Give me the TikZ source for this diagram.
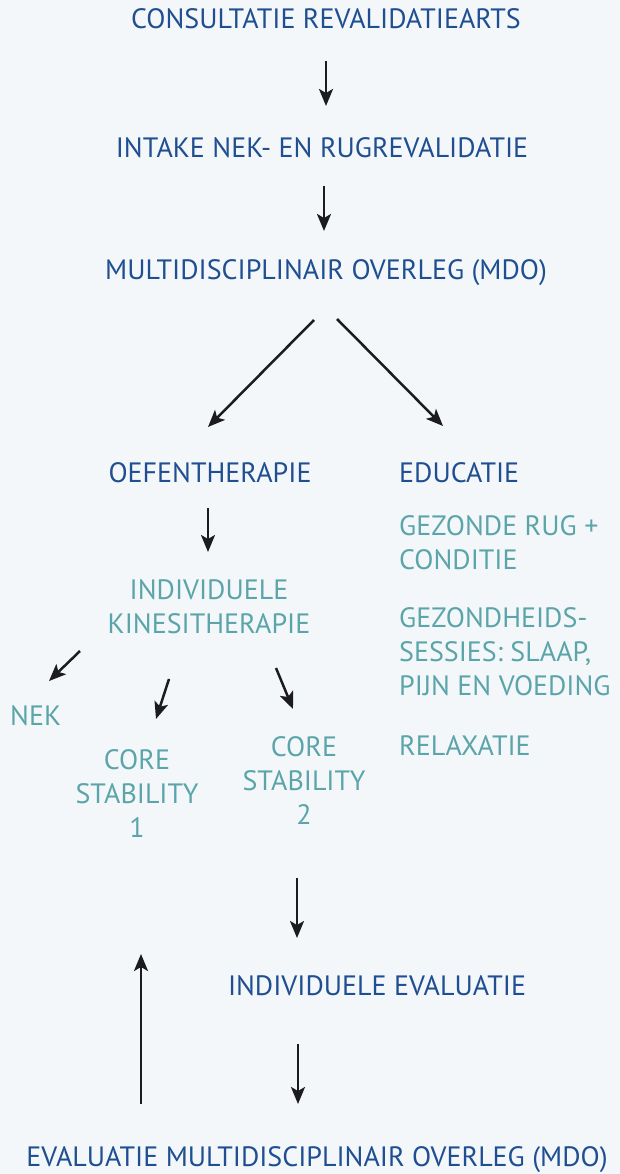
\documentclass[tikz,border=0pt]{standalone}
\usepackage{fontspec}
\setmainfont{PT Sans}
\usepackage{tikz}
\usetikzlibrary{arrows.meta,calc}
\definecolor{bgcol}{RGB}{243,247,249}
\definecolor{stepblue}{RGB}{31,78,145}
\definecolor{subteal}{RGB}{91,165,170}
\definecolor{arrcol}{RGB}{28,28,30}

\begin{document}
\begin{tikzpicture}[x=1pt,y=-1pt,
    txt/.style={inner sep=0pt,font=\fontsize{28}{34}\selectfont,align=center},
    main/.style={txt,text=stepblue},
    sub/.style={txt,text=subteal},
    arr/.style={draw=arrcol,line width=2.5pt,-{Stealth[length=17pt,width=14pt,inset=4pt]}}]
       \fill[bgcol] (0,0) rectangle (620,1174);
       \useasboundingbox (0,0) rectangle (620,1174);
       \node [main, anchor=base] (consult) at (326,29) {CONSULTATIE REVALIDATIEARTS};
       \node [main, anchor=base] (intake) at (322,158) {INTAKE NEK- EN RUGREVALIDATIE};
       \node [main, anchor=base] (mdo) at (326,279) {MULTIDISCIPLINAIR OVERLEG (MDO)};
       \node [main, anchor=base] (oefen) at (210,482) {OEFENTHERAPIE};
       \node [main, anchor=base west] (educ) at (399,482) {EDUCATIE};
       \node [sub, anchor=base] (kine) at (209,633) {INDIVIDUELE\\KINESITHERAPIE};
       \node [sub, anchor=base west, align=left] (rug) at (399,569) {GEZONDE RUG +\\CONDITIE};
       \node [sub, anchor=base west, align=left] (sessies) at (399,695) {GEZONDHEIDS-\\SESSIES: SLAAP,\\PIJN EN VOEDING};
       \node [sub, anchor=base west] (relax) at (399,755) {RELAXATIE};
       \node [sub, anchor=base west] (nek) at (10,725) {NEK};
       \node [sub, anchor=base] (core1) at (137,837) {CORE\\STABILITY\\1};
       \node [sub, anchor=base] (core2) at (304,824) {CORE\\STABILITY\\2};
       \node [main, anchor=base] (ieval) at (377,995) {INDIVIDUELE EVALUATIE};
       \node [main, anchor=base] (emdo) at (317,1166) {EVALUATIE MULTIDISCIPLINAIR OVERLEG (MDO)};
        % pijlen
        \draw[arr] ($(consult.base)+(0,32)$) -- ($(intake.base)+(4,-52)$);
        \draw[arr] ($(intake.base)+(2,28)$) -- ($(mdo.base)+(-2,-48)$);
        \draw[arr] ($(mdo.base)+(-12,41)$) -- ($(oefen.base)+(-2,-55)$);
        \draw[arr] ($(mdo.base)+(11,40)$) -- ($(educ.base west)+(44,-56)$);
        \draw[arr] ($(oefen.base)+(-2,26)$) -- ($(kine.base)+(-1,-81)$);
        \draw[arr] ($(kine.base)+(-129,18)$) -- ($(nek.base west)+(39,-44)$);
        \draw[arr] ($(kine.base)+(-40,46)$) -- ($(core1.base)+(19,-118)$);
        \draw[arr] ($(kine.base)+(67,35)$) -- ($(core2.base)+(-11,-115)$);
        \draw[arr] ($(core2.base)+(-7,54)$) -- ($(ieval.base)+(-80,-57)$);
        \draw[arr] ($(ieval.base)+(-79,49)$) -- ($(emdo.base)+(-19,-62)$);
        \draw[arr] ($(emdo.base)+(-176,-62)$) -- ++(0,-150);
    \end{tikzpicture}
\end{document}
